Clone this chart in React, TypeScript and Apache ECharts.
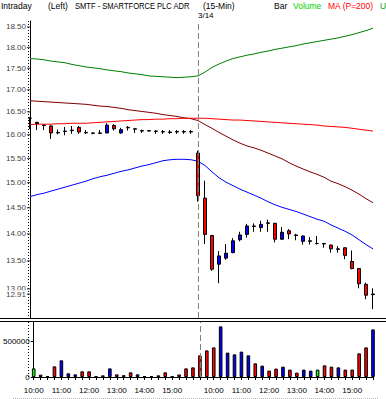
import React, { useEffect, useRef } from 'react';
import * as echarts from 'echarts';

// 15-minute bars, 3/13 (from 10:00) and 3/14 (full session)
const categories: string[] = [
  '3/13 10:00', '3/13 10:15', '3/13 10:30', '3/13 10:45', '3/13 11:00', '3/13 11:15', '3/13 11:30', '3/13 11:45',
  '3/13 12:00', '3/13 12:15', '3/13 12:30', '3/13 12:45', '3/13 13:00', '3/13 13:15', '3/13 13:30', '3/13 13:45',
  '3/13 14:00', '3/13 14:15', '3/13 14:30', '3/13 14:45', '3/13 15:00', '3/13 15:15', '3/13 15:30', '3/13 15:45',
  '3/14 09:30', '3/14 09:45',
  '3/14 10:00', '3/14 10:15', '3/14 10:30', '3/14 10:45', '3/14 11:00', '3/14 11:15', '3/14 11:30', '3/14 11:45',
  '3/14 12:00', '3/14 12:15', '3/14 12:30', '3/14 12:45', '3/14 13:00', '3/14 13:15', '3/14 13:30', '3/14 13:45',
  '3/14 14:00', '3/14 14:15', '3/14 14:30', '3/14 14:45', '3/14 15:00', '3/14 15:15', '3/14 15:30', '3/14 15:45',
];

const openPrices = [
  16.36, 16.27, 16.21, 16.19, 16.04, 16.07, 16.09, 16.16, 16.05, 16.04, 16.03, 16.04, 16.20, 16.04, 16.16, 16.12,
  16.09, 16.09, 16.07, 16.07, 16.05, 16.07, 16.07, 16.07,
  15.61, 14.69, 13.97, 13.44, 13.55, 13.65, 13.89, 13.99, 14.15, 14.12, 14.21, 14.20, 13.90, 14.06, 13.98, 13.86,
  13.86, 13.82, 13.82, 13.79, 13.71, 13.74, 13.49, 13.36, 13.08, 12.90,
];
const highPrices = [
  16.38, 16.28, 16.21, 16.21, 16.11, 16.17, 16.19, 16.19, 16.10, 16.05, 16.10, 16.25, 16.23, 16.15, 16.19, 16.13,
  16.11, 16.09, 16.10, 16.10, 16.10, 16.10, 16.10, 16.10,
  15.66, 15.04, 13.98, 13.68, 13.81, 13.92, 14.04, 14.19, 14.20, 14.25, 14.27, 14.21, 14.13, 14.09, 14.00, 13.97,
  13.94, 13.96, 13.83, 13.80, 13.77, 13.75, 13.69, 13.37, 13.11, 13.01,
];
const lowPrices = [
  16.12, 16.10, 16.10, 15.91, 16.01, 15.99, 16.02, 16.02, 16.02, 16.01, 16.02, 16.03, 16.09, 16.02, 16.09, 16.04,
  16.04, 16.07, 16.02, 16.02, 16.02, 16.02, 16.02, 16.02,
  14.62, 13.81, 13.32, 13.10, 13.52, 13.64, 13.86, 13.93, 14.04, 14.04, 14.04, 13.84, 13.89, 13.90, 13.88, 13.80,
  13.80, 13.80, 13.74, 13.65, 13.65, 13.53, 13.35, 13.01, 12.82, 12.65,
];
const closePrices = [
  16.36, 16.24, 16.20, 16.04, 16.05, 16.08, 16.10, 16.06, 16.04, 16.03, 16.04, 16.21, 16.13, 16.11, 16.15, 16.13,
  16.08, 16.08, 16.08, 16.06, 16.06, 16.06, 16.06, 16.06,
  14.74, 13.99, 13.35, 13.59, 13.64, 13.87, 13.98, 14.15, 14.14, 14.18, 14.20, 13.90, 14.03, 14.00, 13.97, 13.96,
  13.87, 13.82, 13.81, 13.72, 13.72, 13.60, 13.36, 13.09, 12.89, 12.91,
];
const volumes = [
  120000, 33000, 10000, 148000, 232000, 51000, 37000, 79000, 79000, 10000, 23000, 120000, 37000, 25000, 65000, 37000,
  10000, 10000, 23000, 65000, 10000, 35000, 120000, 134000,
  301000, 370000, 412000, 704000, 339000, 315000, 353000, 301000, 190000, 158000, 89000, 117000, 144000, 103000, 61000, 103000,
  89000, 103000, 162000, 144000, 134000, 103000, 103000, 329000, 412000, 662000,
];
const upperBand = [
  17.73, 17.72, 17.70, 17.67, 17.65, 17.63, 17.59, 17.56, 17.53, 17.51, 17.49, 17.46, 17.44, 17.42, 17.39, 17.37,
  17.35, 17.32, 17.31, 17.30, 17.29, 17.28, 17.29, 17.30,
  17.32, 17.41, 17.52, 17.60, 17.67, 17.73, 17.77, 17.81, 17.84, 17.88, 17.91, 17.95, 17.98, 18.01, 18.04, 18.08,
  18.11, 18.14, 18.17, 18.20, 18.23, 18.27, 18.31, 18.36, 18.41, 18.47,
];
const movingAverage = [
  16.22, 16.23, 16.23, 16.23, 16.24, 16.24, 16.25, 16.25, 16.25, 16.26, 16.27, 16.28, 16.29, 16.30, 16.31, 16.32,
  16.33, 16.33, 16.34, 16.34, 16.35, 16.35, 16.36, 16.36,
  16.36, 16.36, 16.35, 16.34, 16.33, 16.32, 16.32, 16.31, 16.30, 16.29, 16.28, 16.27, 16.26, 16.25, 16.24, 16.23,
  16.22, 16.21, 16.19, 16.18, 16.17, 16.16, 16.14, 16.12, 16.10, 16.08,
];
const lowerBand = [
  14.72, 14.76, 14.79, 14.83, 14.87, 14.91, 14.95, 14.99, 15.03, 15.08, 15.12, 15.15, 15.19, 15.23, 15.26, 15.30,
  15.34, 15.37, 15.41, 15.45, 15.47, 15.48, 15.48, 15.47,
  15.44, 15.35, 15.22, 15.10, 15.01, 14.94, 14.87, 14.81, 14.75, 14.69, 14.62, 14.56, 14.51, 14.47, 14.43, 14.38,
  14.33, 14.28, 14.24, 14.17, 14.11, 14.05, 13.98, 13.89, 13.80, 13.72,
];
const shortAverage = [
  16.75, 16.74, 16.73, 16.72, 16.71, 16.70, 16.69, 16.68, 16.67, 16.65, 16.63, 16.62, 16.60, 16.58, 16.55, 16.53,
  16.51, 16.49, 16.47, 16.44, 16.42, 16.40, 16.37, 16.35,
  16.31, 16.22, 16.14, 16.05, 15.97, 15.89, 15.82, 15.76, 15.72, 15.67, 15.61, 15.55, 15.49, 15.41, 15.34, 15.28,
  15.22, 15.17, 15.11, 15.03, 14.98, 14.92, 14.85, 14.77, 14.68, 14.60,
];

const priceTicks = [13.0, 13.5, 14.0, 14.5, 15.0, 15.5, 16.0, 16.5, 17.0, 17.5, 18.0, 18.5];
const priceTickLabels = ['13.00', '13.50', '14.00', '14.50', '15.00', '15.50', '16.00', '16.50', '17.00', '17.50', '18.00', '18.50'];
const lastPrice = 12.91;
const lastPriceLabel = '12.91';
const priceMin = 12.5;
const priceMax = 18.65;
const volumeMax = 765000;
const volumeInterval = 500000;
const sessionStartIndex = 24;
const sessionLabel = '3/14';

const UP = '#0000ff';
const DOWN = '#ff0000';
const FLAT = '#00ff00';
const FONT = '"Liberation Sans", Arial, sans-serif';

export default function App() {
  const ref = useRef<HTMLDivElement>(null);

  useEffect(() => {
    document.body.style.margin = '0';
    const chart = echarts.init(ref.current!, null, { renderer: 'svg' });
    const ln = (v: number) => Math.log(v);

    const candleData = categories.map((_, i) => [
      ln(openPrices[i]), ln(closePrices[i]), ln(lowPrices[i]), ln(highPrices[i]),
    ]);
    const volumeData = volumes.map((v, i) => ({
      value: v,
      itemStyle: {
        color: closePrices[i] > openPrices[i] ? UP : closePrices[i] < openPrices[i] ? DOWN : FLAT,
      },
    }));
    const lineSeries = (data: number[], color: string) => ({
      type: 'line',
      xAxisIndex: 0,
      yAxisIndex: 0,
      data: data.map(ln),
      symbol: 'none',
      showSymbol: false,
      silent: true,
      lineStyle: { color, width: 1 },
      z: 2,
    });

    const headerText = (text: string, x: number, fill: string, scaleX = 1) => ({
      type: 'text',
      x,
      y: 6,
      scaleX,
      silent: true,
      style: {
        text,
        fill,
        font: `8.5px ${FONT}`,
        verticalAlign: 'middle',
        textVerticalAlign: 'middle',
      },
    });

    const option: any = {
      animation: false,
      backgroundColor: '#ffffff',
      textStyle: { fontFamily: FONT },
      grid: [
        { left: 30, right: 13, top: 21, height: 297 },
        { left: 30, right: 13, top: 322, height: 55 },
      ],
      xAxis: [
        { type: 'category', gridIndex: 0, data: categories, boundaryGap: false, show: false },
        {
          type: 'category',
          gridIndex: 1,
          data: categories,
          boundaryGap: false,
          axisLine: { show: true, lineStyle: { color: '#000', width: 1 } },
          axisTick: { show: true, interval: 0, length: 3, lineStyle: { color: '#000' } },
          axisLabel: {
            interval: (_i: number, v: string) => v.endsWith(':00'),
            formatter: (v: string) => v.split(' ')[1],
            fontSize: 8,
            color: '#000',
            margin: 9,
            fontFamily: FONT,
          },
          splitLine: { show: false },
        },
        { type: 'value', gridIndex: 0, min: 0, max: 1, show: false },
      ],
      yAxis: [
        {
          type: 'value',
          gridIndex: 0,
          min: ln(priceMin),
          max: ln(priceMax),
          axisLine: { show: true, lineStyle: { color: '#000', width: 1 } },
          axisTick: { show: false },
          axisLabel: { show: false },
          splitLine: { show: false },
        },
        {
          type: 'value',
          gridIndex: 1,
          min: 0,
          max: volumeMax,
          interval: volumeInterval,
          axisLine: { show: true, lineStyle: { color: '#000', width: 1 } },
          axisTick: { show: true, length: 3, lineStyle: { color: '#000' } },
          axisLabel: {
            fontSize: 8,
            color: '#000',
            margin: 4,
            fontFamily: FONT,
            showMaxLabel: false,
            formatter: (v: number) => String(v),
          },
          splitLine: { show: false },
        },
      ],
      series: [
        lineSeries(upperBand, '#008000'),
        lineSeries(shortAverage, '#800000'),
        lineSeries(movingAverage, '#ff0000'),
        lineSeries(lowerBand, '#0000ff'),
        {
          type: 'candlestick',
          xAxisIndex: 0,
          yAxisIndex: 0,
          data: candleData,
          barWidth: 4,
          silent: true,
          z: 3,
          itemStyle: {
            color: UP,
            color0: DOWN,
            borderColor: '#000',
            borderColor0: '#000',
            borderColorDoji: '#000',
            borderWidth: 1,
          },
          markLine: {
            silent: true,
            symbol: ['none', 'none'],
            lineStyle: { color: '#808080', type: [6, 3], width: 1 },
            label: {
              show: true,
              position: 'end',
              formatter: sessionLabel,
              color: '#000',
              fontSize: 8,
              fontFamily: FONT,
              align: 'left',
              distance: 2,
            },
            data: [{ xAxis: sessionStartIndex }],
          },
        },
        {
          type: 'bar',
          xAxisIndex: 1,
          yAxisIndex: 1,
          data: volumeData,
          barWidth: 3.6,
          silent: true,
          itemStyle: { borderColor: '#000', borderWidth: 1 },
          markLine: {
            silent: true,
            symbol: ['none', 'none'],
            lineStyle: { color: '#808080', type: [6, 3], width: 1 },
            label: { show: false },
            data: [{ xAxis: sessionStartIndex }],
          },
        },
        {
          type: 'scatter',
          xAxisIndex: 2,
          yAxisIndex: 0,
          clip: false,
          silent: true,
          symbol: 'rect',
          symbolSize: [3, 1],
          symbolOffset: [-1.5, 0],
          itemStyle: { color: '#000' },
          label: {
            show: true,
            position: 'left',
            distance: 1,
            fontSize: 8,
            color: '#000',
            fontFamily: FONT,
            formatter: (p: any) => priceTickLabels[p.dataIndex],
          },
          data: priceTicks.map((t) => [0, ln(t)]),
          z: 4,
        },
        {
          type: 'scatter',
          xAxisIndex: 2,
          yAxisIndex: 0,
          clip: false,
          silent: true,
          symbol: 'rect',
          symbolSize: [3, 1],
          symbolOffset: [-1.5, 0],
          itemStyle: { color: '#000' },
          label: {
            show: true,
            position: 'left',
            distance: 1,
            fontSize: 8,
            color: '#000',
            fontFamily: FONT,
            backgroundColor: '#ffffff',
            padding: [0, 0, 0, 1],
            formatter: lastPriceLabel,
          },
          data: [[0, ln(lastPrice)]],
          z: 6,
        },
      ],
      graphic: [
        headerText('Intraday', 1, '#000'),
        headerText('(Left)', 48, '#000'),
        headerText('SMTF - SMARTFORCE PLC ADR', 75, '#000', 0.89),
        headerText('(15-Min)', 203, '#000'),
        headerText('Bar', 274, '#000'),
        headerText('Volume', 293, '#00d000'),
        headerText('MA (P=200)', 328, '#ff0000'),
        headerText('U', 380, '#00a000'),
        { type: 'line', silent: true, shape: { x1: 0, y1: 318.5, x2: 386, y2: 318.5 }, style: { stroke: '#000', lineWidth: 1 } },
        { type: 'line', silent: true, shape: { x1: 0, y1: 321.5, x2: 386, y2: 321.5 }, style: { stroke: '#000', lineWidth: 1 } },
        { type: 'line', silent: true, shape: { x1: 28.5, y1: 21, x2: 28.5, y2: 318 }, style: { stroke: '#000', lineWidth: 1, lineDash: [1, 2] } },
        { type: 'line', silent: true, shape: { x1: 28.5, y1: 322, x2: 28.5, y2: 377 }, style: { stroke: '#000', lineWidth: 1, lineDash: [1, 2] } },
        { type: 'line', silent: true, shape: { x1: 13, y1: 398.5, x2: 379, y2: 398.5 }, style: { stroke: '#b8b8b8', lineWidth: 1, lineDash: [1, 1] } },
      ],
    };

    chart.setOption(option);
    return () => chart.dispose();
  }, []);

  return <div ref={ref} style={{ position: 'fixed', left: 0, top: 0, width: 386, height: 399 }} />;
}
